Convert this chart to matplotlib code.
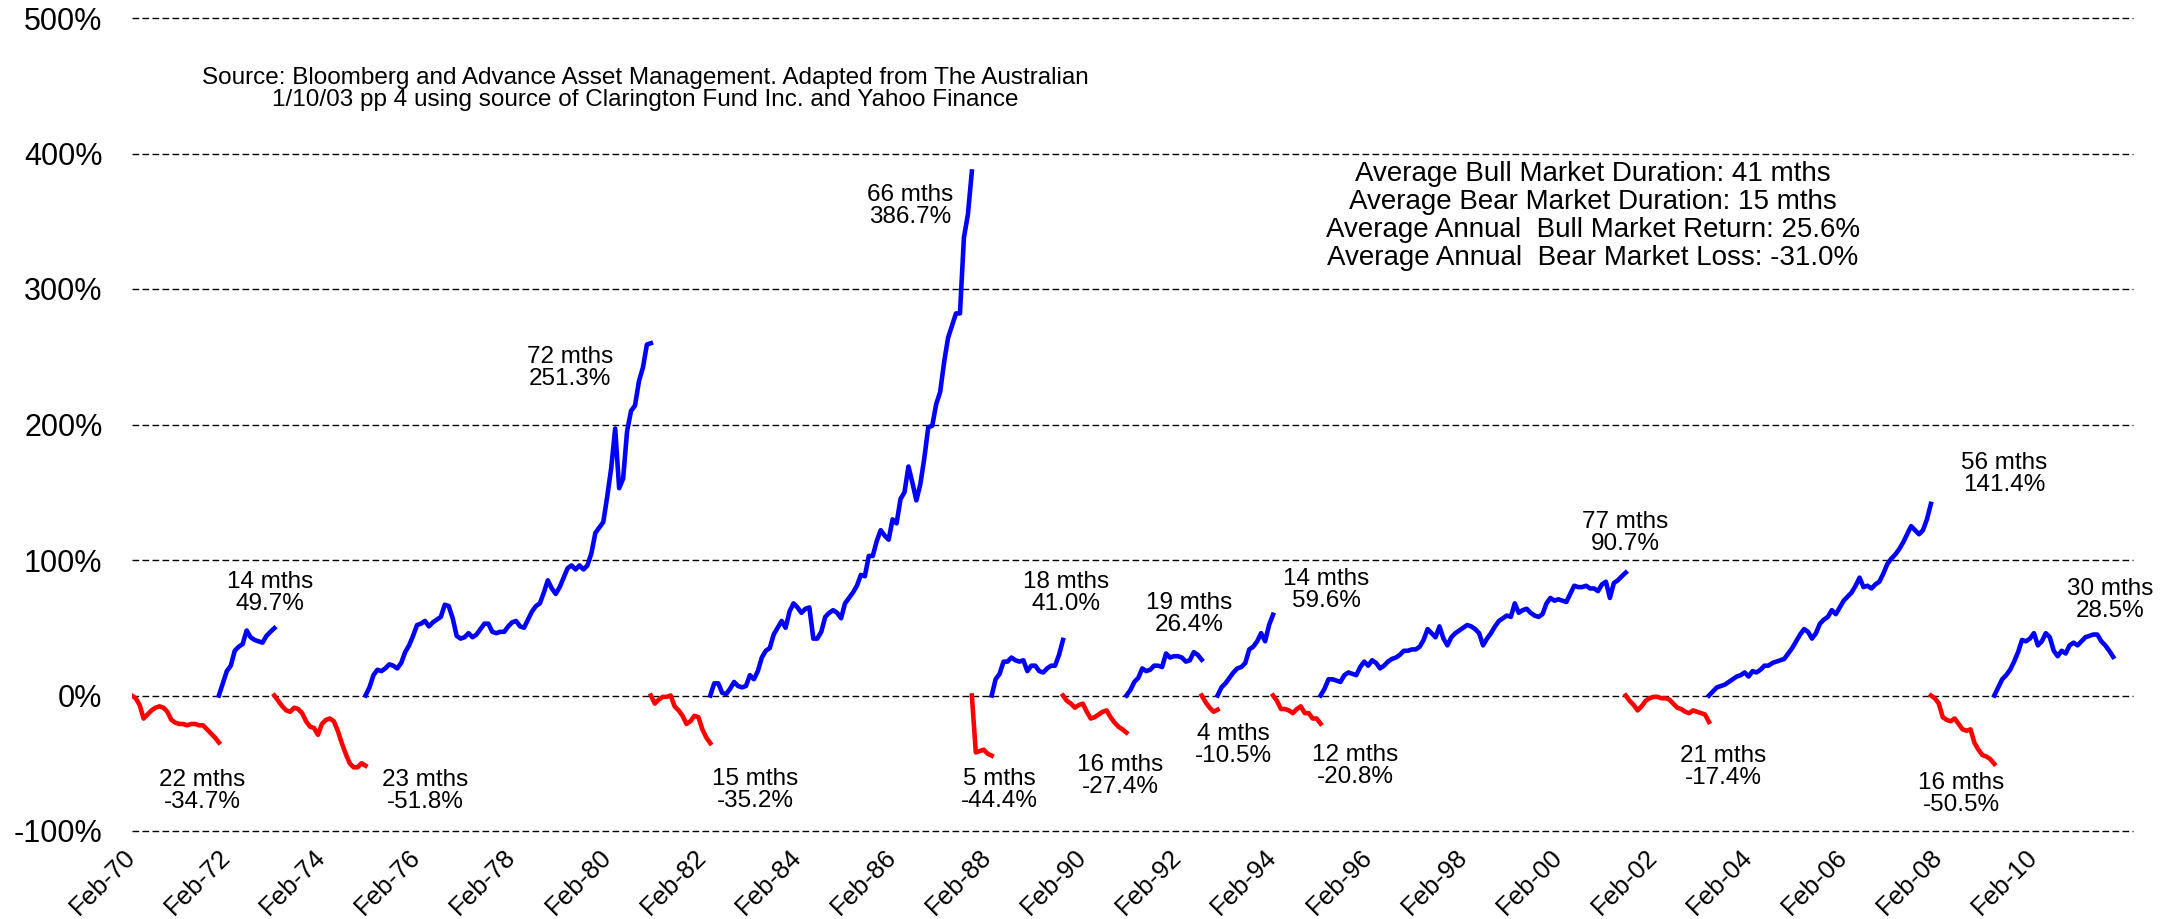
import matplotlib
matplotlib.use("Agg")
import matplotlib.pyplot as plt

plt.rcParams["font.family"] = ["Liberation Sans", "DejaVu Sans"]

W, H, DPI = 2170, 919, 100
BLUE = "#0000FF"
RED = "#FF0000"

# x axis: month index, 0 = Feb-70
tick_months = [0, 24, 48, 72, 96, 120, 144, 168, 192, 216, 240,
               264, 288, 312, 336, 360, 384, 408, 432, 456, 480]
tick_labels = ["Feb-70", "Feb-72", "Feb-74", "Feb-76", "Feb-78", "Feb-80",
               "Feb-82", "Feb-84", "Feb-86", "Feb-88", "Feb-90", "Feb-92",
               "Feb-94", "Feb-96", "Feb-98", "Feb-00", "Feb-02", "Feb-04",
               "Feb-06", "Feb-08", "Feb-10"]
y_ticks = [-100, 0, 100, 200, 300, 400, 500]
y_labels = ["-100%", "0%", "100%", "200%", "300%", "400%", "500%"]

# each phase: cumulative % move, monthly
bear_70 = [0, -2, -7, -17, -14, -11, -9, -8, -9, -12, -18, -20, -21, -21, -22,
           -21, -21, -22, -22, -25, -28, -31, -34.7]
bull_71 = [0, 9, 18, 22, 33, 36, 38, 48, 43, 41, 40, 39, 44, 47, 49.7]
bear_73 = [0, -4, -8, -11, -12, -9, -10, -13, -19, -23, -24, -29, -21, -18,
           -17, -19, -26, -35, -43, -50, -53, -53, -50, -51.8]
bull_74 = [0, 6, 15, 19, 18, 20, 23, 22, 20, 24,
           32, 37, 44, 52, 53, 55, 51, 54, 56, 58,
           67, 66, 57, 44, 42, 43, 46, 43, 45, 49,
           53, 53, 47, 46, 47, 47, 51, 54, 55, 51,
           50, 56, 62, 66, 68, 76, 85, 79, 75, 80,
           87, 94, 96, 93, 96, 93, 96, 105, 120, 124,
           128, 147, 168, 197, 153, 160, 195, 210, 214, 232,
           242, 259, 260]
bear_81 = [0, -6, -3, -1, -1, 0, -8, -11, -15, -21, -19, -15, -16, -25, -31,
           -35.2]
bull_82 = [0, 9, 9, 2, 1, 5, 10, 7, 6, 7,
           15, 12, 18, 28, 33, 35, 45, 50, 55, 50,
           62, 68, 65, 61, 64, 65, 42, 42, 47, 58,
           61, 63, 61, 57, 68, 72, 76, 81, 89, 88,
           103, 103, 114, 122, 118, 115, 130, 127, 145, 150,
           169, 157, 144, 156, 175, 198, 199, 215, 224, 246,
           264, 273, 282, 282, 338, 355, 386.7]
bear_87 = [0, -42, -41, -40, -43, -44.4]
bull_88 = [0, 12, 16, 25, 25, 28, 26, 25, 26, 18, 22, 22, 18, 17, 20, 22, 22,
           30, 41.0]
bear_89 = [0, -4, -6, -9, -7, -6, -12, -17, -16, -14, -12, -11, -16, -20, -23,
           -25, -27.4]
bull_91 = [0, 4, 10, 13, 20, 18, 19, 22, 22, 21, 31, 28, 29, 29, 28, 25, 26,
           32, 30, 26.4]
bear_92 = [0, -5, -9, -12, -10.5]
bull_92 = [0, 6, 9, 13, 17, 20, 21, 24, 34, 36, 40, 46, 40, 52, 59.6]
bear_94 = [0, -4, -10, -10, -11, -13, -10, -8, -13, -13, -17, -17, -20.8]
bull_95 = [0, 5, 12, 12, 11, 10, 15, 17, 16, 15,
           21, 25, 22, 26, 24, 20, 22, 25, 27, 28,
           30, 33, 33, 34, 34, 36, 41, 49, 46, 43,
           51, 42, 37, 43, 46, 48, 50, 52, 51, 49,
           46, 37, 42, 46, 51, 55, 57, 59, 58, 68,
           61, 63, 64, 61, 59, 58, 60, 68, 72, 70,
           71, 70, 69, 75, 81, 80, 80, 81, 79, 79,
           77, 82, 84, 72, 83, 85, 88, 90.7]
bear_01 = [0, -4, -7, -11, -8, -4, -2, -1, -1, -2, -2, -3, -6, -9, -10, -12,
           -13, -11, -12, -13, -14, -19.5]
bull_03 = [0, 3, 6, 7, 8, 10, 12, 14, 15, 17,
           14, 18, 17, 19, 22, 22, 24, 25, 26, 27,
           31, 35, 40, 45, 49, 47, 42, 46, 53, 56,
           58, 63, 60, 65, 70, 73, 76, 81, 87, 80,
           81, 79, 82, 84, 90, 97, 101, 104, 108, 113,
           119, 125, 122, 119, 122, 130, 141.4]
bear_07 = [0, -2, -6, -16, -18, -19, -17, -21, -25, -26, -25, -35, -40, -44,
           -45, -47, -50.5]
bull_09 = [0, 6, 12, 15, 19, 25, 32, 41, 40, 42, 46, 37, 40, 46, 43, 33, 29,
           33, 31, 37, 39, 37, 40, 43, 44, 45, 45, 40, 37, 33, 28.5]

phases = [bear_70, bull_71, bear_73, bull_74, bear_81, bull_82, bear_87,
          bull_88, bear_89, bull_91, bear_92, bull_92, bear_94, bull_95,
          bear_01, bull_03, bear_07, bull_09]
months = [22, 14, 23, 72, 15, 66, 5, 18, 16, 19, 4, 14, 12, 77, 21, 56, 16, 30]
moves = ["-34.7%", "49.7%", "-51.8%", "251.3%", "-35.2%", "386.7%", "-44.4%",
         "41.0%", "-27.4%", "26.4%", "-10.5%", "59.6%", "-20.8%", "90.7%",
         "-17.4%", "141.4%", "-50.5%", "28.5%"]

# label spots in figure pixels (x centre, y of first line, from top)
label_xy = [(202, 780), (270, 582), (425, 780), (570, 357), (755, 779),
            (910, 195), (999, 779), (1066, 582), (1120, 765), (1189, 603),
            (1233, 734), (1326, 579), (1355, 755), (1625, 522), (1723, 756),
            (2004, 463), (1961, 783), (2110, 589)]

stats = ["Average Bull Market Duration: 41 mths",
         "Average Bear Market Duration: 15 mths",
         "Average Annual  Bull Market Return: 25.6%",
         "Average Annual  Bear Market Loss: -31.0%"]
source = ["Source: Bloomberg and Advance Asset Management. Adapted from The Australian",
          "1/10/03 pp 4 using source of Clarington Fund Inc. and Yahoo Finance"]

fig = plt.figure(figsize=(W / DPI, H / DPI), dpi=DPI)
ax = fig.add_axes([131.7 / W, 1 - 831 / H, (2133 - 131.7) / W, (831 - 18) / H])


def px(x, y):
    return x / W, 1 - y / H


for v in y_ticks:
    ax.axhline(v, color="black", lw=1.0, ls=(0, (4.8, 2.4)), zorder=1,
               clip_on=False)

start = 0
for vals, n in zip(phases, months):
    col = BLUE if vals[-1] > 0 else RED
    ax.plot(range(start, start + len(vals)), vals, color=col, lw=3.3,
            solid_joinstyle="round", zorder=3)
    start += n

ax.set_xlim(0, 505)
ax.set_ylim(-100, 500)
for s in ax.spines.values():
    s.set_visible(False)

ax.set_yticks(y_ticks, y_labels, fontsize=22)
ax.set_xticks(tick_months, tick_labels, fontsize=18.5, rotation=45,
              ha="right", va="center", rotation_mode="anchor")
ax.tick_params(axis="y", length=0, pad=21)
ax.tick_params(axis="x", length=0, pad=16)

for (x, y), n, mv in zip(label_xy, months, moves):
    fig.text(*px(x, y), f"{n} mths", ha="center", va="center", fontsize=17.5)
    fig.text(*px(x, y + 22), mv, ha="center", va="center", fontsize=17.5)

for i, line in enumerate(stats):
    fig.text(*px(1593, 174 + i * 28), line, ha="center", va="center",
             fontsize=20)

for i, line in enumerate(source):
    fig.text(*px(645, 78 + i * 22), line, ha="center", va="center",
             fontsize=17.5)

fig.savefig("out.png", dpi=DPI)
